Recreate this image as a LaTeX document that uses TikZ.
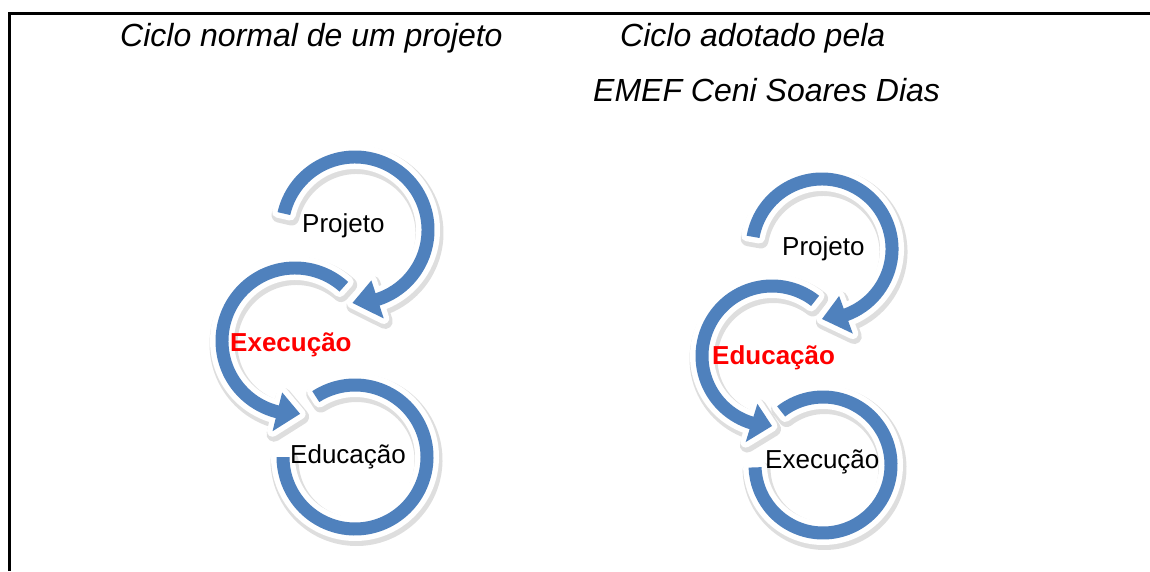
\documentclass[tikz,border=0pt]{standalone}
\usepackage{fontspec}
\setmainfont{Liberation Sans}
\definecolor{ringblue}{HTML}{4F81BD}
\newcommand{\arrowring}[4]{(#2:{#1pt+6.5pt}) arc[start angle=#2, end angle=#3, radius={#1pt+6.5pt}] -- (#3:{#1pt+20pt}) -- (#4:#1pt) -- (#3:{#1pt-20pt}) -- (#3:{#1pt-6.5pt}) arc[start angle=#3, end angle=#2, radius={#1pt-6.5pt}] -- cycle}
\newcommand{\flatring}[3]{(#2:{#1pt+6.5pt}) arc[start angle=#2, end angle=#3, radius={#1pt+6.5pt}] -- (#3:{#1pt-6.5pt}) arc[start angle=#3, end angle=#2, radius={#1pt-6.5pt}] -- cycle}

\begin{document}
\begin{tikzpicture}[x=1pt,y=1pt]
\tikzstyle{ringshadow}=[draw=black, opacity=0.13, line width=15pt, line join=round, shift={(1.5,-3)}]
\tikzstyle{ringedge}=[draw=white, line width=11pt, line join=round]
\tikzstyle{ringfill}=[fill=ringblue]
\tikzstyle{ringtext}=[inner sep=0pt, anchor=base west, font=\fontsize{26}{30}\selectfont]
\tikzstyle{hottext}=[ringtext, text=red, font=\fontsize{26}{30}\selectfont\bfseries]
\tikzstyle{headtext}=[inner sep=0pt, anchor=base west, font=\fontsize{32}{38}\selectfont\itshape]

\useasboundingbox (0,0) rectangle (1150,571);
\draw[line width=3pt] (9.5,0) -- (9.5,557) -- (1150,557);

\node[headtext] (lhead) at (120,524) {Ciclo normal de um projeto};
\node[headtext] (rhead) at (620,524) {Ciclo adotado pela};
\node[headtext] (rhead2) at (593,469) {EMEF Ceni Soares Dias};

\coordinate (l1) at (355,341);
\coordinate (l2) at (295,230);
\coordinate (l3) at (355,114);
\coordinate (r1) at (822,322);
\coordinate (r2) at (772,215);
\coordinate (r3) at (823,106);

\begin{scope}[shift={(l3)}] \path[ringshadow] \flatring{72}{123}{-180}; \end{scope}
\begin{scope}[shift={(l2)}] \path[ringshadow] \arrowring{73}{48}{256}{274}; \end{scope}
\begin{scope}[shift={(l1)}] \path[ringshadow] \arrowring{73}{167}{-72}{-92}; \end{scope}
\begin{scope}[shift={(r3)}] \path[ringshadow] \flatring{68}{128}{-178}; \end{scope}
\begin{scope}[shift={(r2)}] \path[ringshadow] \arrowring{70}{52}{253}{270}; \end{scope}
\begin{scope}[shift={(r1)}] \path[ringshadow] \arrowring{70}{170}{-70}{-90}; \end{scope}

\begin{scope}[shift={(l3)}]
\path[ringedge] \flatring{72}{123}{-180};
\path[ringfill] \flatring{72}{123}{-180};
\end{scope}
\begin{scope}[shift={(l2)}]
\path[ringedge] \arrowring{73}{48}{256}{274};
\path[ringfill] \arrowring{73}{48}{256}{274};
\end{scope}
\begin{scope}[shift={(l1)}]
\path[ringedge] \arrowring{73}{167}{-72}{-92};
\path[ringfill] \arrowring{73}{167}{-72}{-92};
\end{scope}

\begin{scope}[shift={(r3)}]
\path[ringedge] \flatring{68}{128}{-178};
\path[ringfill] \flatring{68}{128}{-178};
\end{scope}
\begin{scope}[shift={(r2)}]
\path[ringedge] \arrowring{70}{52}{253}{270};
\path[ringfill] \arrowring{70}{52}{253}{270};
\end{scope}
\begin{scope}[shift={(r1)}]
\path[ringedge] \arrowring{70}{170}{-70}{-90};
\path[ringfill] \arrowring{70}{170}{-70}{-90};
\end{scope}

\node[ringtext] (lproj) at (302,338) {Projeto};
\node[hottext] (lexec) at (230,220) {Execução};
\node[ringtext] (leduc) at (290,108) {Educação};
\node[ringtext] (rproj) at (782,316) {Projeto};
\node[hottext] (reduc) at (712,207) {Educação};
\node[ringtext] (rexec) at (765,103) {Execução};

\end{tikzpicture}
\end{document}
